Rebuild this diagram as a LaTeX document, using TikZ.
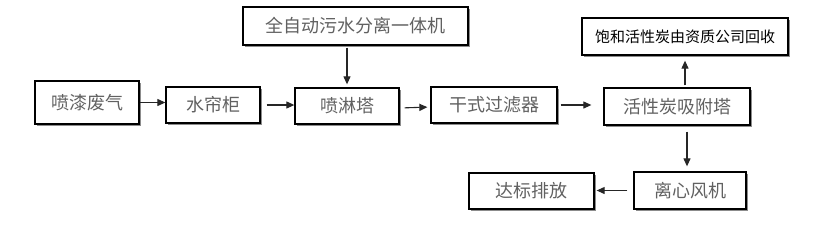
\documentclass[tikz,border=0pt]{standalone}
\usepackage{fontspec}
\newfontfamily\cjk{Noto Sans CJK SC}
\usetikzlibrary{arrows.meta,shadows}
\begin{document}
\begin{tikzpicture}[x=1pt,y=-1pt,
  box/.style={draw=black,line width=1.3pt,fill=white,inner sep=0pt,
    font=\cjk\fontsize{18}{20}\selectfont,text=black!62,
    drop shadow={shadow xshift=2pt,shadow yshift=-2pt,fill=black!45,opacity=1}},
  arr/.style={line width=1.1pt,draw=black!85,-{Triangle[length=8pt,width=7pt]}}]
\useasboundingbox (0,0) rectangle (834,231);
\node[box,minimum width=104pt,minimum height=43pt] (a) at (87,102.5) {喷漆废气};
\node[box,minimum width=94pt,minimum height=36pt] (b) at (213,105) {水帘柜};
\node[box,minimum width=104pt,minimum height=36pt] (c) at (347,106) {喷淋塔};
\node[box,minimum width=225pt,minimum height=38pt] (d) at (355.5,26) {全自动污水分离一体机};
\node[box,minimum width=126pt,minimum height=36pt] (e) at (494,105) {干式过滤器};
\node[box,minimum width=146pt,minimum height=37pt] (f) at (677,106.5) {活性炭吸附塔};
\node[box,minimum width=206pt,minimum height=37pt,font=\cjk\fontsize{15}{17}\selectfont,text=black] (g) at (685,36.5) {饱和活性炭由资质公司回收};
\node[box,minimum width=112pt,minimum height=37pt] (h) at (690,190.5) {离心风机};
\node[box,minimum width=125pt,minimum height=36pt] (i) at (531.5,191) {达标排放};
\draw[arr] (a.east) -- (a.east -| b.west);
\draw[arr,shorten <=6pt] (b.east) -- (b.east -| c.west);
\draw[arr,shorten <=2pt,shorten >=3pt] (d.south -| c.north) -- (c.north);
\draw[arr,shorten <=5pt,shorten >=3pt] ([yshift=-2pt]c.east) -- ([yshift=-2pt]e.west);
\draw[arr,shorten <=3pt,shorten >=12pt] (e.east) -- (e.east -| f.west);
\draw[arr,shorten <=2pt,shorten >=5pt] (g.south |- f.north) -- (g.south);
\draw[arr,shorten <=6pt,shorten >=5pt] ([xshift=10pt]f.south) -- ([xshift=10pt]f.south |- h.north);
\draw[arr,shorten <=6pt,shorten >=2pt] (h.west) -- (h.west -| i.east);
\end{tikzpicture}
\end{document}
